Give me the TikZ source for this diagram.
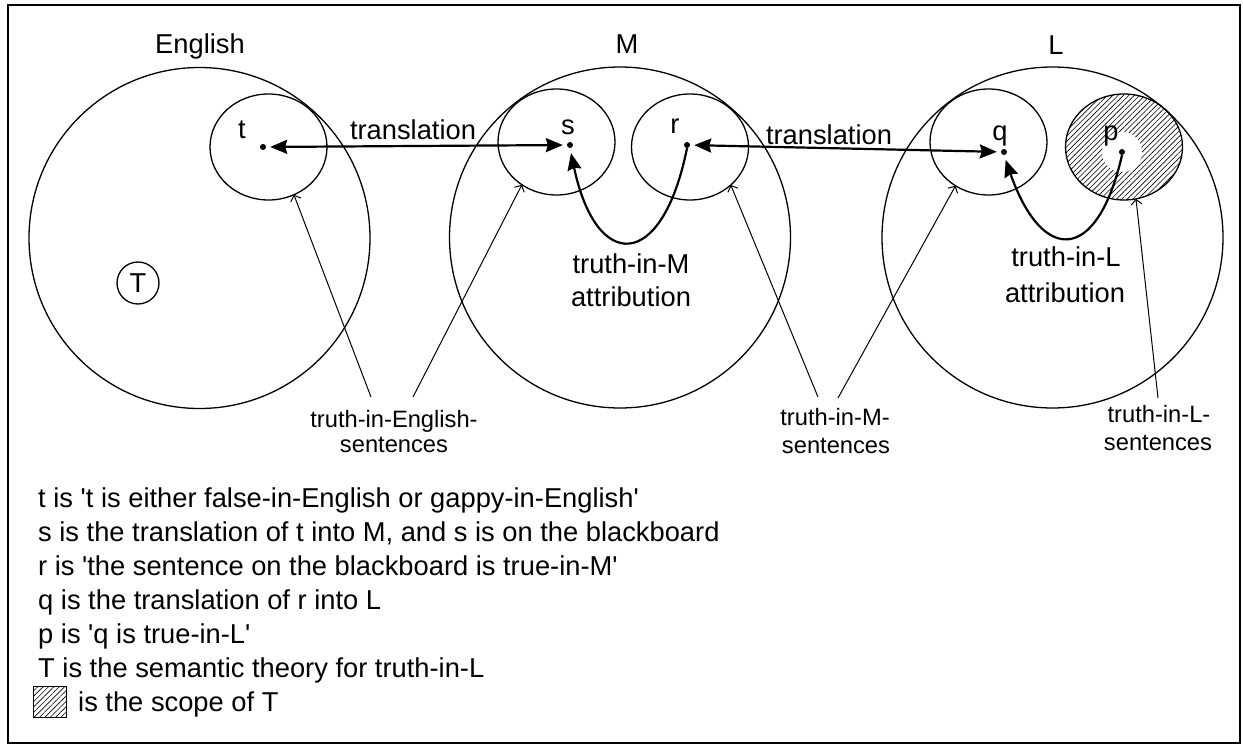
\documentclass[tikz,border=0pt]{standalone}
\usepackage{fontspec}
\setmainfont{Liberation Sans}
\usetikzlibrary{arrows.meta,shapes.geometric,patterns.meta}
\newcommand{\sq}{\textquotesingle}
\begin{document}
\begin{tikzpicture}[x=1pt,y=-1pt,
  big/.style={font=\fontsize{27.3}{33}\selectfont, inner sep=0pt, anchor=base},
  small/.style={font=\fontsize{23.7}{27}\selectfont, inner sep=0pt, anchor=base},
  legend/.style={big, anchor=base west},
  lang/.style={circle, draw, line width=1.3pt, minimum size=341pt, inner sep=0pt, outer sep=0pt},
  subset/.style={ellipse, draw, line width=1.3pt, minimum width=117pt, minimum height=106pt, inner sep=0pt, outer sep=0pt},
  pt/.style={circle, fill, inner sep=0pt, minimum size=6pt},
  transl/.style={line width=2.2pt, {Stealth[length=17pt,width=14pt,inset=2pt]}-{Stealth[length=17pt,width=14pt,inset=2pt]}, shorten <=4pt, shorten >=4pt},
  attr/.style={line width=2.2pt, -{Stealth[length=17pt,width=14pt,inset=2pt]}, shorten >=5pt},
  pointer/.style={line width=1pt, -{Straight Barb[length=5pt,width=11pt]}},
  hatch/.style={pattern={Lines[angle=45,distance=3.8pt,line width=0.6pt]}}
]
\useasboundingbox (0,0) rectangle (1243,746);
\draw[line width=2.5pt] (8,5) rectangle (1240,743);

% language circles
\node[lang] (E) at (199.5,238) {};
\node[lang] (M) at (620,237.5) {};
\node[lang] (L) at (1052.5,237.5) {};
\node[big] (Elbl) at (200,54) {English};
\node[big] (Mlbl) at (627,54) {M};
\node[big] (Llbl) at (1056,55) {L};

% truth-in subsets
\node[subset] (tset) at (268.5,147) {};
\node[subset] (sset) at (556.5,142) {};
\node[subset] (rset) at (690,147) {};
\node[subset] (qset) at (988.5,142) {};
\node[subset, hatch] (pset) at (1124,147) {};
\fill[white] (1122,152) circle (20pt);

% theory T
\node[circle, draw, line width=1.3pt, minimum size=42pt, inner sep=0pt, font=\fontsize{27.3}{33}\selectfont] (T) at (138,283) {T};

% sentence points
\node[pt] (t) at (263,147) {};
\node[pt] (s) at (570,145) {};
\node[pt] (r) at (687,145) {};
\node[pt] (q) at (1004,152) {};
\node[pt] (p) at (1122,152) {};
\node[big] (tl) at (242,139) {t};
\node[big] (sl) at (568,135) {s};
\node[big] (rl) at (675,134) {r};
\node[big] (ql) at (1000,141) {q};
\node[big] (pl) at (1111,141) {p};

% translations
\draw[transl] (t) -- (s);
\node[big] (tr1) at (413,140) {translation};
\draw[transl] (r) -- (q);
\node[big] (tr2) at (829,145) {translation};

% attributions
\draw[attr] (r.south) .. controls +(-25,124) and +(26,124) .. (s.south);
\node[big] (am1) at (631,273) {truth-in-M};
\node[big] (am2) at (631,306) {attribution};
\draw[attr] (p.south) .. controls +(-25,109) and +(38,109) .. (q.south);
\node[big] (al1) at (1066,267) {truth-in-L};
\node[big] (al2) at (1065,302) {attribution};

% pointers
\coordinate (pe1) at (371,397);
\coordinate (pe2) at (413,397);
\coordinate (pm1) at (818,397);
\coordinate (pm2) at (838,398);
\coordinate (plx) at (1158,398);
\draw[pointer] (pe1) -- (tset.-62);
\draw[pointer] (pe2) -- (sset.-129);
\draw[pointer] (pm1) -- (rset.-43);
\draw[pointer] (pm2) -- (qset.-127);
\draw[pointer] (plx) -- (pset.-77);

\node[small] (se1) at (394,427) {truth-in-English-};
\node[small] (se2) at (394,452) {sentences};
\node[small] (sm1) at (835,425) {truth-in-M-};
\node[small] (sm2) at (836,453) {sentences};
\node[small] (sl1) at (1159,422) {truth-in-L-};
\node[small] (sl2) at (1158,450) {sentences};

% legend
\node[legend] (g1) at (38,507) {t is \sq t is either false-in-English or gappy-in-English\sq};
\node[legend] (g2) at (38,541) {s is the translation of t into M, and s is on the blackboard};
\node[legend] (g3) at (38,575) {r is \sq the sentence on the blackboard is true-in-M\sq};
\node[legend] (g4) at (38,609) {q is the translation of r into L};
\node[legend] (g5) at (38,643) {p is \sq q is true-in-L\sq};
\node[legend] (g6) at (38,677) {T is the semantic theory for truth-in-L};
\node[draw, hatch, line width=1pt, minimum width=33pt, minimum height=31pt, inner sep=0pt, outer sep=0pt] (key) at (49.5,701.5) {};
\node[legend] (g7) at (78,711) {is the scope of T};
\end{tikzpicture}
\end{document}
